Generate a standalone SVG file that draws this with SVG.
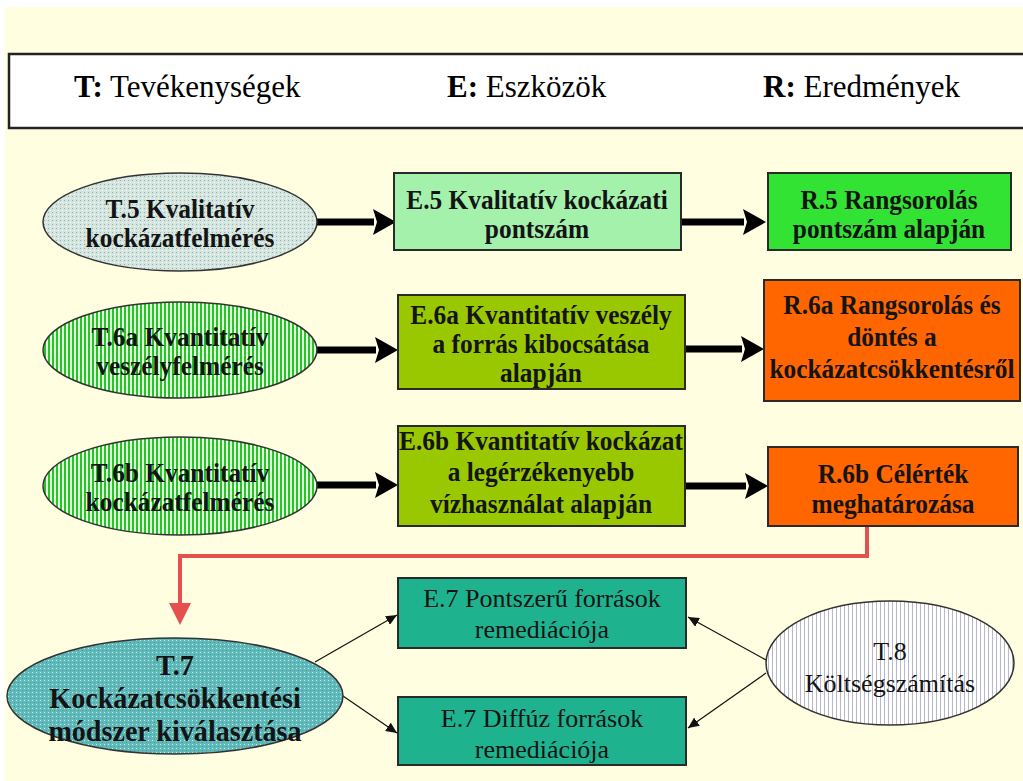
<svg xmlns="http://www.w3.org/2000/svg" width="1023" height="781" viewBox="0 0 1023 781">
<defs>
<style>
.bg{fill:#fffee0}
.box{stroke:#2a2a2a;stroke-width:2}
.ell{stroke:#333;stroke-width:1.5}
.tb{font-family:"Liberation Serif","Times New Roman",serif;font-weight:bold;font-size:27px;text-anchor:middle;fill:#141414}
.t7{font-family:"Liberation Serif","Times New Roman",serif;font-weight:bold;font-size:29px;text-anchor:middle;fill:#141414}
.tr{font-family:"Liberation Serif","Times New Roman",serif;font-size:26px;text-anchor:middle;fill:#141414}
.hd{font-family:"Liberation Serif","Times New Roman",serif;font-size:31px;fill:#000}
.thick{stroke:#000;stroke-width:7;fill:none}
.red{stroke:#e5504f;stroke-width:4;fill:none}
.thin{stroke:#111;stroke-width:1.2;fill:none}
</style>
<pattern id="pT5" width="4" height="4" patternUnits="userSpaceOnUse"><rect width="4" height="4" fill="#d3e5de"/><rect width="1" height="1" fill="#94b2aa"/><rect x="2" y="2" width="1" height="1" fill="#ffffff"/></pattern>
<pattern id="pGreen" width="4" height="4" patternUnits="userSpaceOnUse"><rect width="4" height="4" fill="#26c526"/><rect x="2" width="2" height="4" fill="#e4fde0"/></pattern>
<pattern id="pT7" width="4" height="4" patternUnits="userSpaceOnUse"><rect width="4" height="4" fill="#62b9b9"/><rect width="1" height="1" fill="#c8ecec"/><rect x="2" y="2" width="1" height="1" fill="#3f9c9c"/></pattern>
<pattern id="pT8" width="4" height="4" patternUnits="userSpaceOnUse"><rect width="4" height="4" fill="#ffffff"/><rect width="1" height="4" fill="#b8b8c8"/></pattern>
<marker id="mThick" markerUnits="userSpaceOnUse" markerWidth="24" markerHeight="28" refX="1" refY="14" orient="auto"><path d="M0,1 L23,14 L0,27 L4,14 z" fill="#000"/></marker>
<marker id="mRed" markerUnits="userSpaceOnUse" markerWidth="22" markerHeight="24" refX="1" refY="11" orient="auto"><path d="M0,0 L22,11 L0,22 z" fill="#e5504f"/></marker>
<marker id="mThin" markerUnits="userSpaceOnUse" markerWidth="12" markerHeight="10" refX="11" refY="5" orient="auto"><path d="M0,0 L11,5 L0,10 z" fill="#111"/></marker>
</defs>
<rect x="5" y="7" width="1018" height="774" class="bg"/>

<g id="legend">
<rect x="9" y="54" width="1020" height="74" fill="#fff" stroke="#222" stroke-width="2.5"/>
<text class="hd" x="74" y="97"><tspan font-weight="bold">T:</tspan> Tevékenységek</text>
<text class="hd" x="447" y="97"><tspan font-weight="bold">E:</tspan> Eszközök</text>
<text class="hd" x="763" y="97"><tspan font-weight="bold">R:</tspan> Eredmények</text>
</g>

<g id="connectors">
<line class="thick" x1="317" y1="222" x2="374" y2="222" marker-end="url(#mThick)"/>
<line class="thick" x1="681" y1="222" x2="744" y2="222" marker-end="url(#mThick)"/>
<line class="thick" x1="317" y1="350" x2="376" y2="350" marker-end="url(#mThick)"/>
<line class="thick" x1="685" y1="349" x2="742" y2="349" marker-end="url(#mThick)"/>
<line class="thick" x1="317" y1="485" x2="376" y2="485" marker-end="url(#mThick)"/>
<line class="thick" x1="685" y1="486" x2="746" y2="486" marker-end="url(#mThick)"/>
<path class="red" d="M867,527 V556 H180 V604" marker-end="url(#mRed)"/>
<line class="thin" x1="315" y1="662" x2="397" y2="615" marker-end="url(#mThin)"/>
<line class="thin" x1="343" y1="696" x2="397" y2="733" marker-end="url(#mThin)"/>
<line class="thin" x1="766" y1="660" x2="688" y2="617" marker-end="url(#mThin)"/>
<line class="thin" x1="766" y1="673" x2="688" y2="728" marker-end="url(#mThin)"/>
</g>

<g id="T5">
<ellipse class="ell" cx="180" cy="222" rx="137" ry="49" fill="url(#pT5)"/>
<text class="tb" transform="translate(180 218) scale(0.94 1)">T.5 Kvalitatív</text>
<text class="tb" transform="translate(180 247) scale(0.94 1)">kockázatfelmérés</text>
</g>
<g id="E5">
<rect class="box" x="394" y="173" width="287" height="77" fill="#a4f1ac"/>
<text class="tb" transform="translate(537 209) scale(0.94 1)">E.5 Kvalitatív kockázati</text>
<text class="tb" transform="translate(537 238) scale(0.94 1)">pontszám</text>
</g>
<g id="R5">
<rect class="box" x="768" y="173" width="243" height="77" fill="#33e333"/>
<text class="tb" transform="translate(889 209) scale(0.94 1)">R.5 Rangsorolás</text>
<text class="tb" transform="translate(889 238) scale(0.94 1)">pontszám alapján</text>
</g>

<g id="T6a">
<ellipse class="ell" cx="180" cy="350" rx="137" ry="48" fill="url(#pGreen)"/>
<text class="tb" transform="translate(180 346) scale(0.94 1)">T.6a Kvantitatív</text>
<text class="tb" transform="translate(180 375) scale(0.94 1)">veszélyfelmérés</text>
</g>
<g id="E6a">
<rect class="box" x="398" y="295" width="287" height="94" fill="#99c800"/>
<text class="tb" transform="translate(541 324) scale(0.94 1)">E.6a Kvantitatív veszély</text>
<text class="tb" transform="translate(541 353) scale(0.94 1)">a forrás kibocsátása</text>
<text class="tb" transform="translate(541 382) scale(0.94 1)">alapján</text>
</g>
<g id="R6a">
<rect class="box" x="764" y="280" width="256" height="121" fill="#ff6600"/>
<text class="tb" transform="translate(892 314) scale(0.94 1)">R.6a Rangsorolás és</text>
<text class="tb" transform="translate(892 346) scale(0.94 1)">döntés a</text>
<text class="tb" transform="translate(892 378) scale(0.94 1)">kockázatcsökkentésről</text>
</g>

<g id="T6b">
<ellipse class="ell" cx="180" cy="486" rx="137" ry="49" fill="url(#pGreen)"/>
<text class="tb" transform="translate(180 482) scale(0.94 1)">T.6b Kvantitatív</text>
<text class="tb" transform="translate(180 511) scale(0.94 1)">kockázatfelmérés</text>
</g>
<g id="E6b">
<rect class="box" x="398" y="426" width="287" height="100" fill="#99c800"/>
<text class="tb" transform="translate(541 450) scale(0.94 1)">E.6b Kvantitatív kockázat</text>
<text class="tb" transform="translate(541 481) scale(0.94 1)">a legérzékenyebb</text>
<text class="tb" transform="translate(541 513) scale(0.94 1)">vízhasználat alapján</text>
</g>
<g id="R6b">
<rect class="box" x="768" y="447" width="250" height="79" fill="#ff6600"/>
<text class="tb" transform="translate(893 483) scale(0.94 1)">R.6b Célérték</text>
<text class="tb" transform="translate(893 513) scale(0.94 1)">meghatározása</text>
</g>

<g id="T7">
<ellipse class="ell" cx="175" cy="696" rx="168" ry="58" fill="url(#pT7)"/>
<text class="t7" transform="translate(175 675) scale(0.97 1)">T.7</text>
<text class="t7" transform="translate(175 708) scale(0.97 1)">Kockázatcsökkentési</text>
<text class="t7" transform="translate(175 741) scale(0.97 1)">módszer kiválasztása</text>
</g>
<g id="E7a">
<rect class="box" x="398" y="578" width="288" height="70" fill="#1fb28f"/>
<text class="tr" x="542" y="607">E.7 Pontszerű források</text>
<text class="tr" x="542" y="638">remediációja</text>
</g>
<g id="E7b">
<rect class="box" x="398" y="697" width="288" height="68" fill="#1fb28f"/>
<text class="tr" x="542" y="727">E.7 Diffúz források</text>
<text class="tr" x="542" y="758">remediációja</text>
</g>
<g id="T8">
<ellipse class="ell" cx="890" cy="663" rx="124" ry="62" fill="url(#pT8)"/>
<text class="tr" x="890" y="660">T.8</text>
<text class="tr" x="890" y="692">Költségszámítás</text>
</g>
</svg>
